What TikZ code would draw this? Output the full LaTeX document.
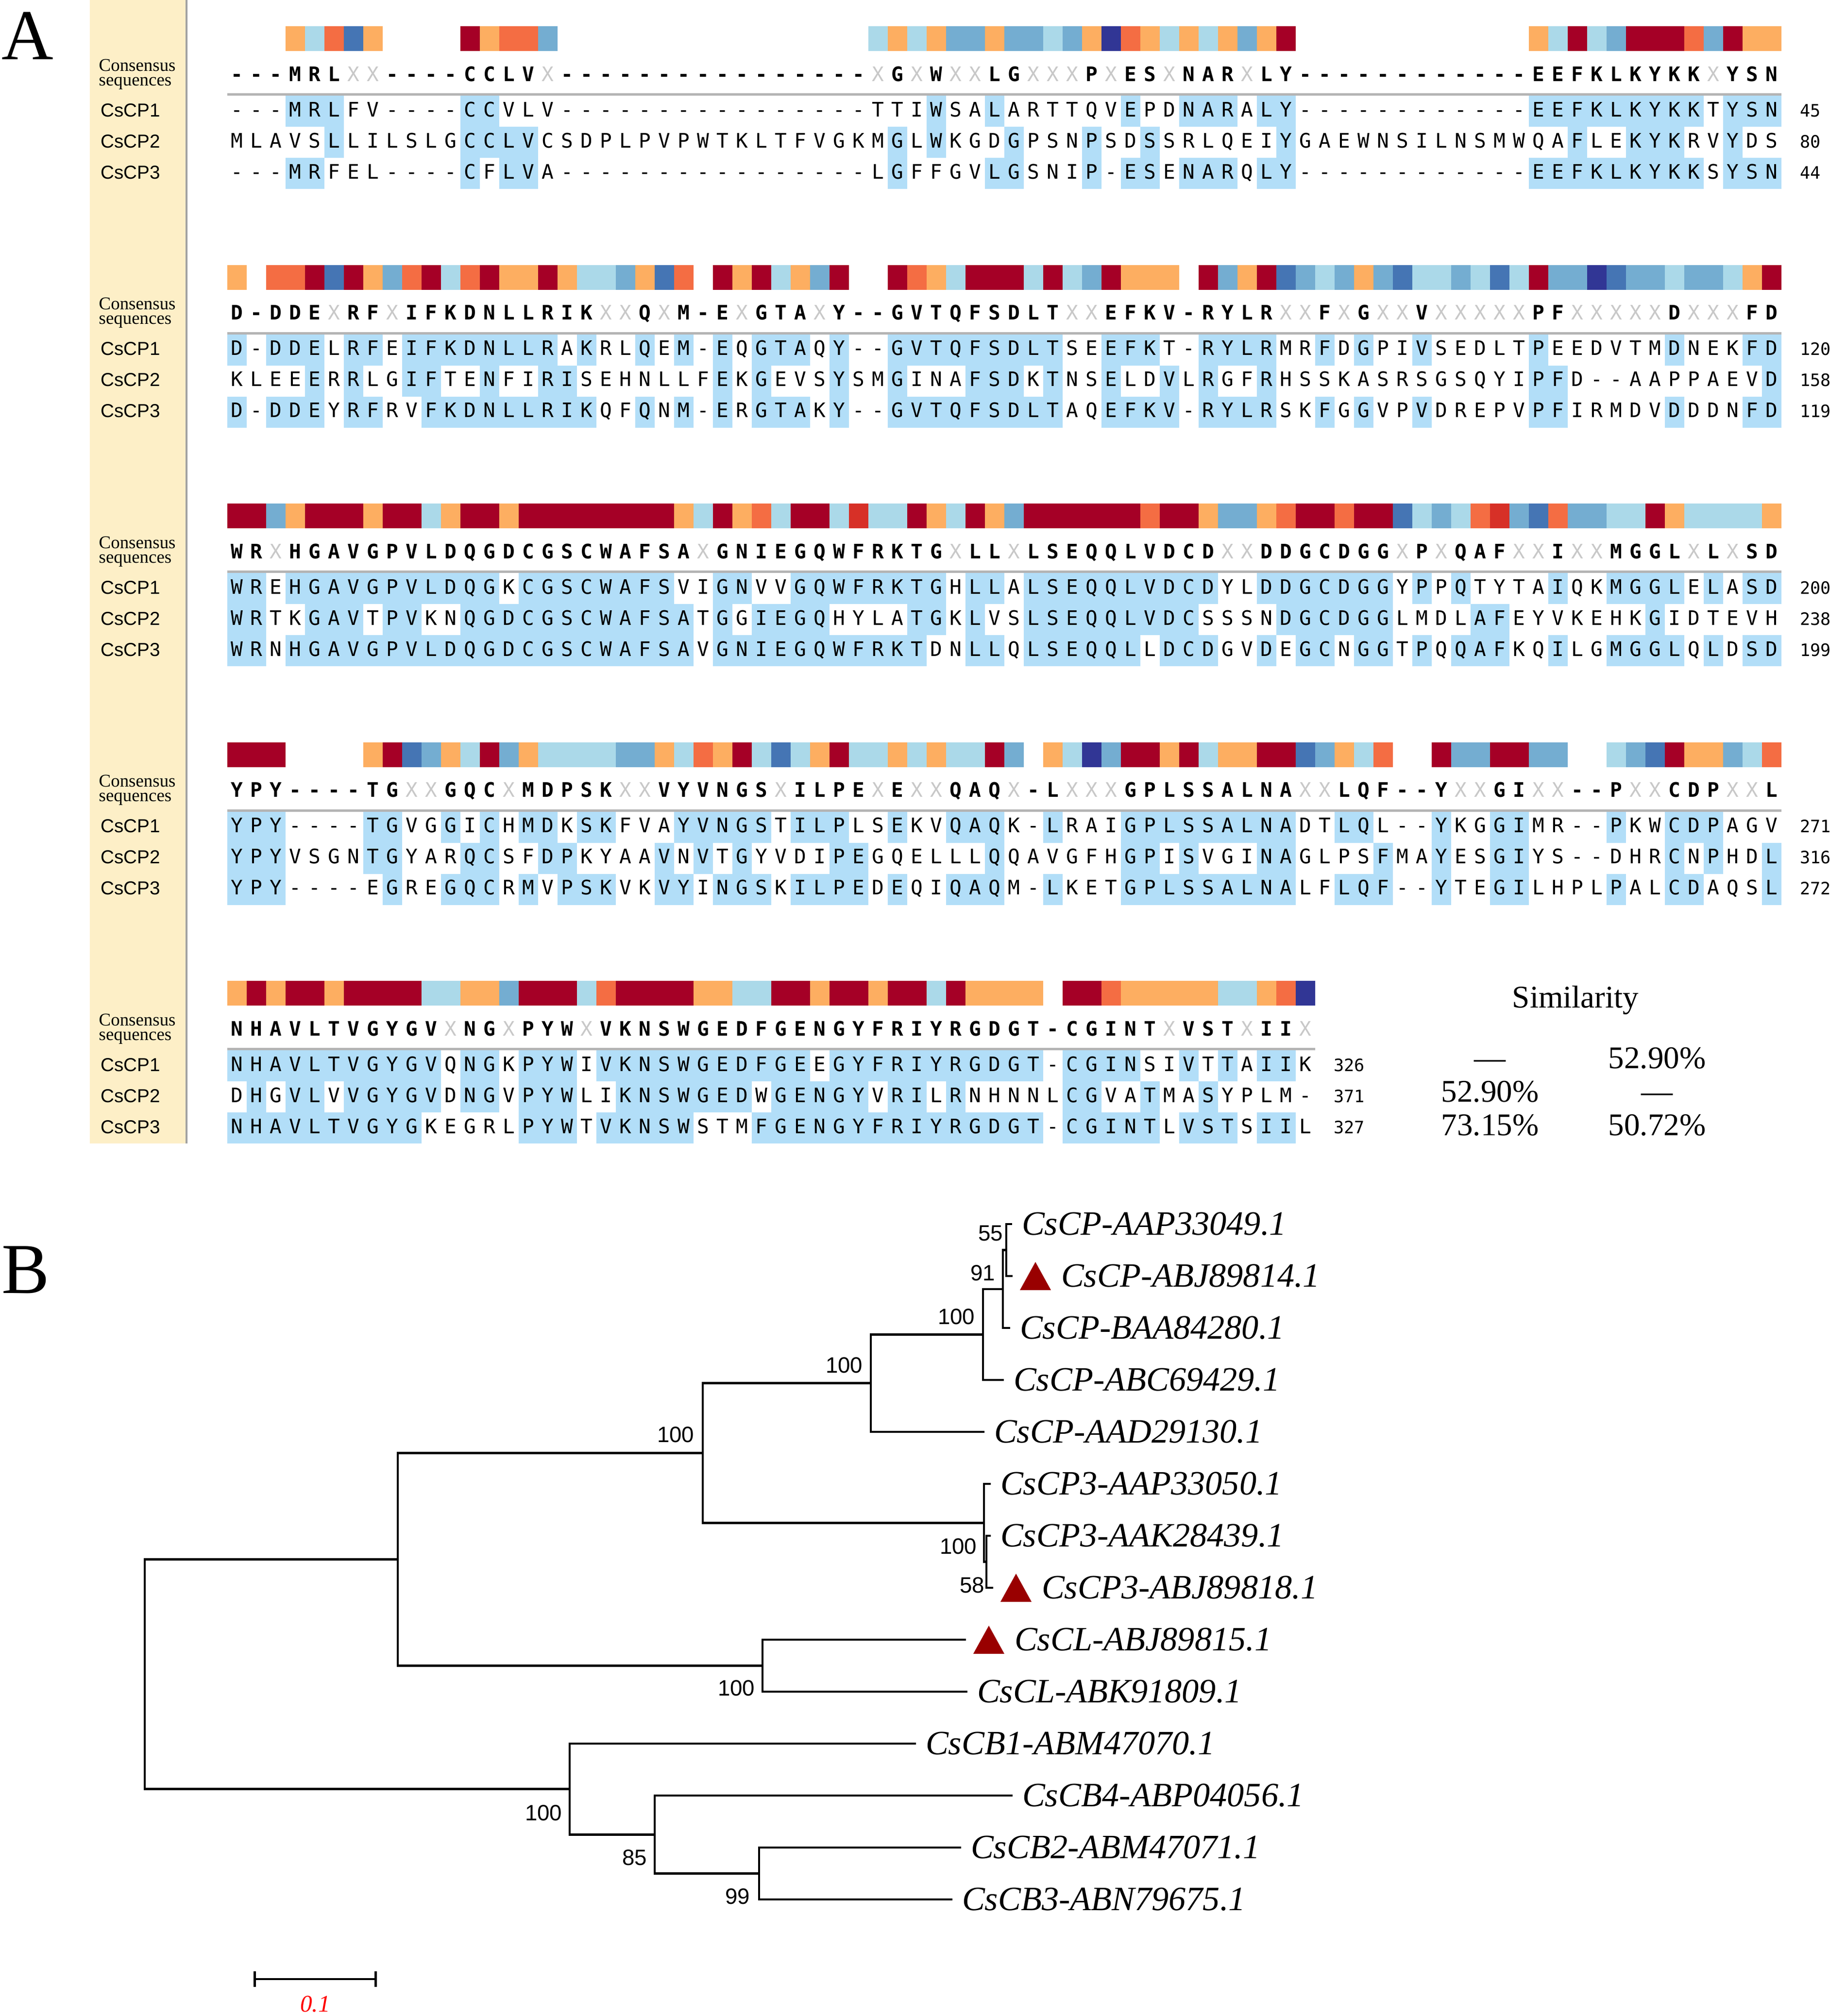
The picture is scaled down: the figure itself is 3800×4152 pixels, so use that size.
\documentclass[tikz,border=0pt]{standalone}
\usepackage{fontspec}
\setmainfont{Liberation Serif}
\newfontfamily\seqfont{DejaVu Sans Mono}
\newfontfamily\labfont{Liberation Sans}
\usepackage{xcolor}
\definecolor{barR}{HTML}{A50026}
\definecolor{bare}{HTML}{D73027}
\definecolor{baro}{HTML}{F46D43}
\definecolor{bary}{HTML}{FDAE61}
\definecolor{barc}{HTML}{ABD9E9}
\definecolor{barm}{HTML}{74ADD1}
\definecolor{barb}{HTML}{4575B4}
\definecolor{barn}{HTML}{313695}
\definecolor{hit}{HTML}{B2DEF8}
\definecolor{labbg}{HTML}{FDEFC7}
\definecolor{anygrey}{HTML}{C8C8C8}
\definecolor{sepgrey}{HTML}{B4B4B4}
\definecolor{markred}{HTML}{990000}
\usepackage{xstring}
\usepackage{tikz}
\usetikzlibrary{arrows.meta,positioning,calc}

% colour bar over the consensus: one code per column, '.' = no bar
\newcommand{\consbar}[2]{%
  \StrLen{#2}[\ncol]%
  \foreach \i in {1,...,\ncol}{%
    \StrChar{#2}{\i}[\barcode]%
    \IfStrEq{\barcode}{.}{}{%
      \edef\barcol{bar\barcode}%
      \fill[fill=\barcol] (427.5+40*\i,#1+54) rectangle ++(40,51);}%
  }%
}
% consensus letters, X in grey
\newcommand{\consrow}[3]{%
  \StrLen{#3}[\ncol]%
  \foreach \i in {1,...,\ncol}{%
    \StrChar{#3}{\i}[\consc]%
    \IfStrEq{\consc}{X}%
      {\node[anyres] (b#1c\i) at (447.5+40*\i,#2+167) {X};}%
      {\node[consres] (b#1c\i) at (447.5+40*\i,#2+167) {\consc};}%
  }%
}
% one sequence, shaded where it matches the consensus
\newcommand{\seqrow}[6]{%
  \StrLen{#5}[\ncol]%
  \foreach \i in {1,...,\ncol}{%
    \StrChar{#5}{\i}[\resc]%
    \StrChar{#4}{\i}[\consc]%
    \IfStrEq{\resc}{\consc}{\IfStrEq{\consc}{-}{}{%
      \fill[hit] (427.5+40*\i,#2+133+64*#3) rectangle ++(40,64);}}{}%
    \node[res] (b#1r#3c\i) at (447.5+40*\i,#2+176+64*#3) {\resc};
  }%
  \node[num] (b#1n#3) at (505.5+40*\ncol,#2+176+64*#3) {#6};
}
\newcommand{\alnblock}[9]{%
  \pgfmathsetmacro{\blkoff}{491.5*(#1-1)}%
  \consbar{\blkoff}{#2}%
  \consrow{#1}{\blkoff}{#3}%
  \draw[sepline] (467.5,\blkoff+194.5) -- ++(40*\ncol,0);
  \seqrow{#1}{\blkoff}{1}{#3}{#4}{#7}%
  \seqrow{#1}{\blkoff}{2}{#3}{#5}{#8}%
  \seqrow{#1}{\blkoff}{3}{#3}{#6}{#9}%
}

\begin{document}
\begin{tikzpicture}[
  x=0.1mm,
  y=-0.1mm,
  res/.style={anchor=base, inner sep=0pt, font=\seqfont\fontsize{11.7}{12}\selectfont},
  consres/.style={res, font=\seqfont\bfseries\fontsize{11.7}{12}\selectfont},
  anyres/.style={res, text=anygrey},
  num/.style={anchor=base west, inner sep=0pt, font=\seqfont\fontsize{10}{10}\selectfont},
  rowlab/.style={anchor=base west, inner sep=0pt, font=\labfont\fontsize{11}{11}\selectfont},
  conslab/.style={anchor=base west, inner sep=0pt, font=\fontsize{10.5}{10.5}\selectfont},
  sepline/.style={draw=sepgrey, line width=0.5mm},
  simtxt/.style={anchor=base, inner sep=0pt, font=\fontsize{18.5}{18.5}\selectfont},
  panel/.style={anchor=base west, inner sep=0pt, font=\fontsize{42}{42}\selectfont},
  branch/.style={line width=1.3pt},
  leaf/.style={anchor=west, inner xsep=2mm, inner ysep=0pt, outer sep=0pt, font=\itshape\fontsize{20}{20}\selectfont},
  marked/.style={leaf, inner xsep=10mm},
  boot/.style={anchor=east, inner sep=0pt, font=\labfont\fontsize{13}{13}\selectfont},
]
\useasboundingbox (0,0) rectangle (3800,4152);

% Panel labels
\node[panel] (pA) at (3,122) {A};
\node[panel] (pB) at (3,2663) {B};

% Name column
\fill[labbg] (185,0) rectangle (382,2355);
\draw[sepgrey!90!black, line width=0.4mm] (384,0) -- (384,2355);
\foreach \k in {1,...,5}{
  \pgfmathsetmacro{\blkoff}{491.5*(\k-1)}
  \node[conslab] (cla\k) at (203,\blkoff+146) {Consensus};
  \node[conslab] (clb\k) at (203,\blkoff+176) {sequences};
  \foreach \r in {1,2,3}
    \node[rowlab] (rl\k\r) at (207,\blkoff+176+64*\r) {CsCP\r};
}

% Alignment blocks
\alnblock{1}%
  {...ycoby....Ryoom................cycymmymmcmynoycycymyR............ycRcmRRRomRyy}%
  {---MRLXX----CCLVX----------------XGXWXXLGXXXPXESXNARXLY------------EEFKLKYKKXYSN}%
  {---MRLFV----CCVLV----------------TTIWSALARTTQVEPDNARALY------------EEFKLKYKKTYSN}%
  {MLAVSLLILSLGCCLVCSDPLPVPWTKLTFVGKMGLWKGDGPSNPSDSSRLQEIYGAEWNSILNSMWQAFLEKYKRVYDS}%
  {---MRFEL----CFLVA----------------LGFFGVLGSNIP-ESENARQLY------------EEFKLKYKKSYSN}%
  {45}{80}{44}
\alnblock{2}%
  {y.ooRbRymoRcoRyyRyccmybo.RyRcymR..RoycRRRcRcmRyyy.RmyRbmcmymbccmcbcRmmnbmmcmmcyR}%
  {D-DDEXRFXIFKDNLLRIKXXQXM-EXGTAXY--GVTQFSDLTXXEFKV-RYLRXXFXGXXVXXXXXPFXXXXXDXXXFD}%
  {D-DDELRFEIFKDNLLRAKRLQEM-EQGTAQY--GVTQFSDLTSEEFKT-RYLRMRFDGPIVSEDLTPEEDVTMDNEKFD}%
  {KLEEERRLGIFTENFIRISEHNLLFEKGEVSYSMGINAFSDKTNSELDVLRGFRHSSKASRSGSQYIPFD--AAPPAEVD}%
  {D-DDEYRFRVFKDNLLRIKQFQNM-ERGTAKY--GVTQFSDLTAQEFKV-RYLRSKFGGVPVDREPVPFIRMDVDDDNFD}%
  {120}{158}{119}
\alnblock{3}%
  {RRmyRRRyRRcyRRyRRRRRRRRycRyocRRceccRycRymRRRRRRoRRymmyoRRoRRbcmcoembommccRyccccy}%
  {WRXHGAVGPVLDQGDCGSCWAFSAXGNIEGQWFRKTGXLLXLSEQQLVDCDXXDDGCDGGXPXQAFXXIXXMGGLXLXSD}%
  {WREHGAVGPVLDQGKCGSCWAFSVIGNVVGQWFRKTGHLLALSEQQLVDCDYLDDGCDGGYPPQTYTAIQKMGGLELASD}%
  {WRTKGAVTPVKNQGDCGSCWAFSATGGIEGQHYLATGKLVSLSEQQLVDCSSSNDGCDGGLMDLAFEYVKEHKGIDTEVH}%
  {WRNHGAVGPVLDQGDCGSCWAFSAVGNIEGQWFRKTDNLLQLSEQQLLDCDGVDEGCNGGTPQQAFKQILGMGGLQLDSD}%
  {200}{238}{199}
\alnblock{4}%
  {RRR....yRbmycRmyccccmmycoyRcbcyRccycyccRm.ycnmRRyRcyyRRbmyco..RmmRRmm..cmbRyymco}%
  {YPY----TGXXGQCXMDPSKXXVYVNGSXILPEXEXXQAQX-LXXXGPLSSALNAXXLQF--YXXGIXX--PXXCDPXXL}%
  {YPY----TGVGGICHMDKSKFVAYVNGSTILPLSEKVQAQK-LRAIGPLSSALNADTLQL--YKGGIMR--PKWCDPAGV}%
  {YPYVSGNTGYARQCSFDPKYAAVNVTGYVDIPEGQELLLQQAVGFHGPISVGINAGLPSFMAYESGIYS--DHRCNPHDL}%
  {YPY----EGREGQCRMVPSKVKVYINGSKILPEDEQIQAQM-LKETGPLSSALNALFLQF--YTEGILHPLPALCDAQSL}%
  {271}{316}{272}
\alnblock{5}%
  {yRyRRyRRRRccyymRRRcoRRRRyyccRRyRRyRRcRyyyy.RRoyyyyyccyon}%
  {NHAVLTVGYGVXNGXPYWXVKNSWGEDFGENGYFRIYRGDGT-CGINTXVSTXIIX}%
  {NHAVLTVGYGVQNGKPYWIVKNSWGEDFGEEGYFRIYRGDGT-CGINSIVTTAIIK}%
  {DHGVLVVGYGVDNGVPYWLIKNSWGEDWGENGYVRILRNHNNLCGVATMASYPLM-}%
  {NHAVLTVGYGKEGRLPYWTVKNSWSTMFGENGYFRIYRGDGT-CGINTLVSTSIIL}%
  {326}{371}{327}

% Similarity table
\node[simtxt] (simt) at (3244,2075) {Similarity};
\foreach \x/\y/\v [count=\j] in {3068/2200/---, 3412/2200/52.90\%,
                                  3068/2269/52.90\%, 3412/2269/---,
                                  3068/2338/73.15\%, 3412/2338/50.72\%}
  \node[simtxt] (sv\j) at (\x,\y) {\v};

% Tree: inner nodes
\coordinate (root) at (298,3448);
\coordinate (nA) at (819,3211.5);
\coordinate (nB) at (1447,2992.5);
\coordinate (nC) at (1793,2848.7);
\coordinate (nD) at (2024,2748.4);
\coordinate (nE) at (2065,2654.8);
\coordinate (nF) at (2072,2574.5);
\coordinate (nG) at (2026,3136.3);
\coordinate (nH) at (2031,3216.5);
\coordinate (nL) at (1570,3430.5);
\coordinate (nM) at (1173,3684.6);
\coordinate (nN) at (1348,3778.3);
\coordinate (nO) at (1563,3858.5);

% Tree: leaves
\node[leaf]   (l1)  at (2084,2521) {CsCP-AAP33049.1};
\node[marked] (l2)  at (2085,2628) {CsCP-ABJ89814.1};
\node[leaf]   (l3)  at (2080,2735) {CsCP-BAA84280.1};
\node[leaf]   (l4)  at (2067,2842) {CsCP-ABC69429.1};
\node[leaf]   (l5)  at (2027,2949) {CsCP-AAD29130.1};
\node[leaf]   (l6)  at (2040,3056) {CsCP3-AAP33050.1};
\node[leaf]   (l7)  at (2040,3163) {CsCP3-AAK28439.1};
\node[marked] (l8)  at (2045,3270) {CsCP3-ABJ89818.1};
\node[marked] (l9)  at (1989,3377) {CsCL-ABJ89815.1};
\node[leaf]   (l10) at (1992,3484) {CsCL-ABK91809.1};
\node[leaf]   (l11) at (1886,3591) {CsCB1-ABM47070.1};
\node[leaf]   (l12) at (2085,3698) {CsCB4-ABP04056.1};
\node[leaf]   (l13) at (1979,3805) {CsCB2-ABM47071.1};
\node[leaf]   (l14) at (1961,3912) {CsCB3-ABN79675.1};

% Tree: branches
\foreach \a/\b in {root/nA, root/nM, nA/nB, nA/nL, nB/nC, nB/nG,
                   nC/nD, nC/l5, nD/nE, nD/l4, nE/nF, nE/l3, nF/l1, nF/l2,
                   nG/l6, nG/nH, nH/l7, nH/l8, nL/l9, nL/l10,
                   nM/l11, nM/nN, nN/l12, nN/nO, nO/l13, nO/l14}
  \draw[branch] (\a) |- (\b);

% Marked sequences
\foreach \m in {l2,l8,l9}
  \fill[markred] ([shift={(15,29)}]\m.west) -- ++(64,0) -- ++(-32,-58) -- cycle;

% Bootstrap values
\foreach \n/\x/\y/\v in {F/2066/2540/55, E/2050/2622/91, D/2008/2712/100,
                         C/1777/2812/100, B/1430/2955/100, G/2012/3185/100,
                         H/2028/3265/58, L/1555/3477/100, M/1158/3734/100,
                         N/1333/3826/85, O/1545/3906/99}
  \node[boot] (b\n) at (\x,\y) {\v};

% Scale bar
\coordinate (sb0) at (522,4076);
\coordinate (sb1) at (776,4076);
\draw[branch, {Bar[width=3.2mm]}-{Bar[width=3.2mm]}] (sb0) -- (sb1);
\node[text=red, inner sep=0pt, font=\itshape\fontsize{14}{14}\selectfont] (sbl) at (649,4127) {0.1};

\end{tikzpicture}
\end{document}
